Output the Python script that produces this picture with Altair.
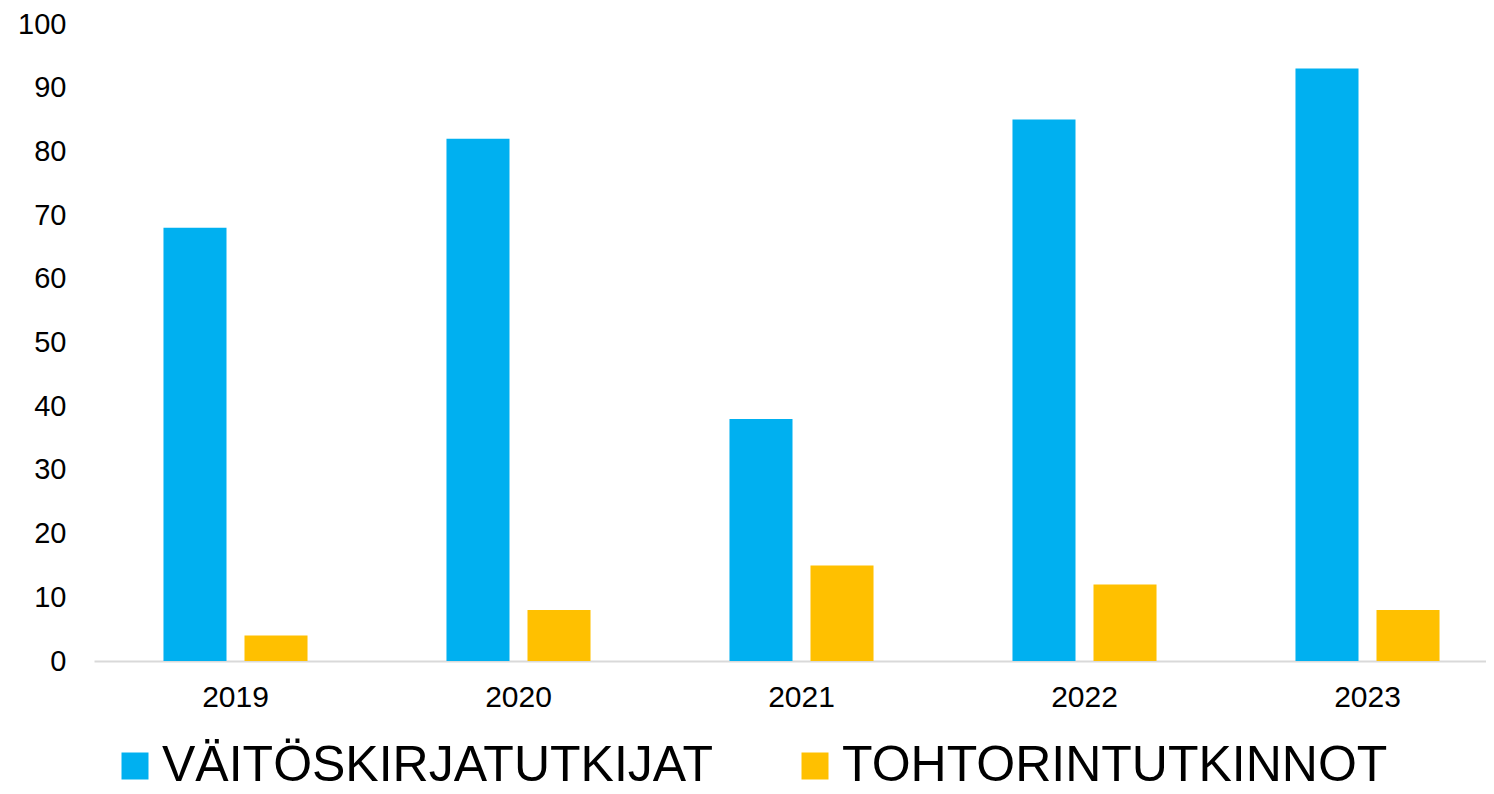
import altair as alt
import pandas as pd

years = ["2019", "2020", "2021", "2022", "2023"]
series_names = ["VÄITÖSKIRJATUTKIJAT", "TOHTORINTUTKINNOT"]
vaitos = [68, 82, 38, 85, 93]
tohtori = [4, 8, 15, 12, 8]
colors = ["#00B0F0", "#FFC000"]
y_ticks = list(range(0, 101, 10))

rows = []
for i, y in enumerate(years):
    rows.append({"year": y, "series": series_names[0], "value": vaitos[i]})
    rows.append({"year": y, "series": series_names[1], "value": tohtori[i]})
df = pd.DataFrame(rows)

FONT = "Liberation Sans"

chart = alt.Chart(df).mark_bar().encode(
    x=alt.X("year:N", sort=years,
            scale=alt.Scale(range=[0, 1415], paddingInner=0.491, paddingOuter=0.2455),
            axis=alt.Axis(title=None, labelAngle=0, labelFontSize=30, labelFont=FONT,
                          labelColor="#000000", labelPadding=21, ticks=False,
                          domainColor="#D9D9D9", domainWidth=2)),
    xOffset=alt.XOffset("series:N", sort=series_names,
                        scale=alt.Scale(paddingInner=0.222, paddingOuter=0)),
    y=alt.Y("value:Q", scale=alt.Scale(domain=[0, 100], nice=False),
            axis=alt.Axis(title=None, values=y_ticks, grid=False, domain=False, ticks=False,
                          labelFontSize=29, labelFont=FONT, labelColor="#000000",
                          labelPadding=28)),
    color=alt.Color("series:N", sort=series_names,
                    scale=alt.Scale(domain=series_names, range=colors),
                    legend=alt.Legend(title=None, orient="none", direction="horizontal",
                                      legendX=16, legendY=717, padding=0,
                                      symbolType="square", symbolSize=729,
                                      symbolStrokeWidth=0, labelFontSize=50,
                                      labelFont=FONT, labelColor="#000000",
                                      labelLimit=2000, labelOffset=2,
                                      columnPadding=77)),
).properties(
    width=1392,
    height=637,
    autosize=alt.AutoSizeParams(type="none"),
    padding={"left": 86, "top": 16, "right": 0, "bottom": 133},
).configure_view(stroke=None)

chart.save("out.html", embed_options={"renderer": "svg", "actions": False})
